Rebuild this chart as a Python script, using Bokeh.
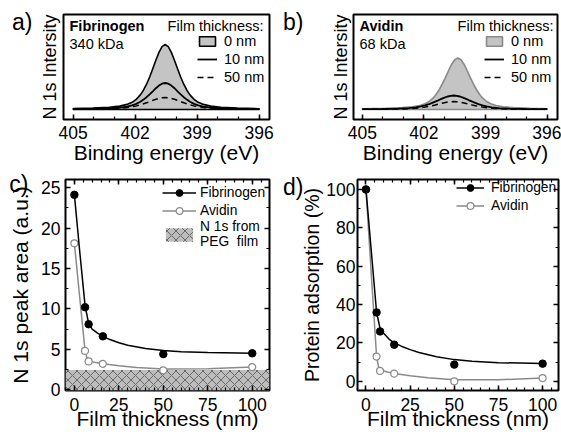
from bokeh.plotting import figure
from bokeh.layouts import column, row
from bokeh.models import (Range1d, SingleIntervalTicker, FixedTicker, LinearAxis,
                          Legend, LegendItem, Label, CustomJSTickFormatter)
from bokeh.embed import file_html
from bokeh.resources import INLINE

FONT = "Liberation Sans"

# ---------------- data: XPS N 1s spectra (panels a, b) ----------------
energy = [405.0, 404.05, 403.25, 402.75, 402.4, 402.15, 401.95, 401.75, 401.6, 401.45,
          401.3, 401.15, 401.0, 400.85, 400.7, 400.55, 400.4, 400.25, 400.1, 399.95,
          399.8, 399.65, 399.5, 399.35, 399.15, 398.95, 398.7, 398.35, 397.85, 397.05, 396.0]
fib_0nm = [0.09, 0.14, 0.23, 0.34, 0.51, 0.72, 1.01, 1.46, 1.93, 2.53, 3.25, 4.07, 4.92, 5.71,
           6.29, 6.5, 6.29, 5.71, 4.92, 4.07, 3.25, 2.53, 1.93, 1.46, 1.01, 0.72, 0.51, 0.34,
           0.23, 0.14, 0.08]
fib_10nm = [0.05, 0.07, 0.12, 0.19, 0.28, 0.41, 0.56, 0.78, 0.99, 1.23, 1.52, 1.82, 2.13, 2.39,
            2.58, 2.65, 2.58, 2.39, 2.13, 1.82, 1.52, 1.23, 0.99, 0.78, 0.56, 0.41, 0.28, 0.19,
            0.12, 0.07, 0.05]
fib_50nm = [0.03, 0.05, 0.08, 0.12, 0.19, 0.27, 0.36, 0.47, 0.57, 0.67, 0.79, 0.91, 1.02, 1.11,
            1.18, 1.2, 1.18, 1.11, 1.02, 0.91, 0.79, 0.67, 0.57, 0.47, 0.36, 0.27, 0.19, 0.12,
            0.08, 0.05, 0.03]
energy_av0 = [405.0, 403.85, 403.05, 402.55, 402.2, 401.95, 401.75, 401.55, 401.4, 401.25,
              401.1, 400.95, 400.8, 400.65, 400.5, 400.35, 400.2, 400.05, 399.9, 399.75,
              399.6, 399.45, 399.3, 399.15, 398.95, 398.75, 398.5, 398.15, 397.65, 396.85, 396.0]
av_0nm = [0.07, 0.11, 0.19, 0.27, 0.40, 0.57, 0.80, 1.16, 1.53, 2.00, 2.58, 3.22, 3.90, 4.53,
          4.98, 5.15, 4.98, 4.53, 3.90, 3.22, 2.58, 2.00, 1.53, 1.16, 0.80, 0.57, 0.40, 0.27,
          0.19, 0.11, 0.07]
av_10nm = [0.03, 0.05, 0.09, 0.14, 0.22, 0.32, 0.42, 0.54, 0.66, 0.79, 0.92, 1.06, 1.19, 1.30,
           1.37, 1.4, 1.37, 1.30, 1.19, 1.06, 0.92, 0.79, 0.66, 0.54, 0.42, 0.32, 0.22, 0.14,
           0.09, 0.05, 0.03]
av_50nm = [0.02, 0.03, 0.05, 0.08, 0.13, 0.18, 0.24, 0.31, 0.38, 0.45, 0.53, 0.61, 0.68, 0.74,
           0.78, 0.8, 0.78, 0.74, 0.68, 0.61, 0.53, 0.45, 0.38, 0.31, 0.24, 0.18, 0.13, 0.08,
           0.05, 0.03, 0.02]

# ---------------- data: peak area / adsorption (panels c, d) ----------------
thickness = [0, 6, 8, 16, 50, 100]
fib_area = [24.1, 10.2, 8.1, 6.6, 4.4, 4.5]
av_area = [18.1, 4.8, 3.5, 3.2, 2.4, 2.8]
peg_level = 2.45
fib_fit_x = [0, 3, 6, 8, 10, 13, 16, 20, 25, 30, 40, 50, 60, 75, 100]
fib_area_fit = [24.1, 17.1, 10.4, 8.2, 7.5, 7.0, 6.6, 6.2, 5.8, 5.5, 5.1, 4.85, 4.7, 4.6, 4.5]
av_fit_x = [0, 3, 6, 7, 8, 12, 16, 25, 35, 50, 75, 100]
av_area_fit = [18.1, 11.4, 4.8, 4.0, 3.6, 3.35, 3.2, 2.95, 2.75, 2.55, 2.6, 2.8]

fib_ads = [100, 35.9, 26.0, 19.1, 8.7, 9.2]
av_ads = [100, 12.9, 5.4, 4.0, 0.0, 1.7]
fib_ads_fit = [100, 68, 36, 27.5, 25, 22, 20, 18.3, 16.5, 15, 12.8, 11.3, 10.4, 9.7, 9.3]
av_ads_fit = [100, 56, 12.9, 8.0, 6.0, 4.8, 4.1, 2.9, 1.8, 0.8, 0.8, 1.7]

GRAY_FILL = "#c4c4c4"
GRAY_LINE = "#8a8a8a"
HATCH_FILL = "#bdbdbd"
HATCH_LINE = "#6a6a6a"


def base_fig(w, h, xr, yr, left, right, top, bottom):
    p = figure(width=w, height=h, x_range=xr, y_range=yr, output_backend="svg",
               toolbar_location=None, min_border_left=left, min_border_right=right,
               min_border_top=top, min_border_bottom=bottom)
    p.outline_line_color = "black"
    p.outline_line_width = 2
    p.xgrid.visible = False
    p.ygrid.visible = False
    return p


def style_axis(ax, tick_size, title_size, tick_standoff, title_standoff):
    ax.axis_line_color = None
    ax.major_tick_in = 5
    ax.major_tick_out = 0
    ax.minor_tick_in = 3
    ax.minor_tick_out = 0
    ax.major_tick_line_color = "black"
    ax.major_tick_line_width = 1.5
    ax.minor_tick_line_color = "black"
    ax.minor_tick_line_width = 1.2
    ax.major_label_text_font = FONT
    ax.major_label_text_font_size = tick_size
    ax.major_label_text_color = "black"
    ax.major_label_standoff = tick_standoff
    ax.axis_label_text_font = FONT
    ax.axis_label_text_font_size = title_size
    ax.axis_label_text_font_style = "normal"
    ax.axis_label_text_color = "black"
    ax.axis_label_standoff = title_standoff


def mirror_axes(p, xtick, ytick):
    # tick marks only on the top and right frame edges (no labels)
    for ticker, side in ((xtick, "above"), (ytick, "right")):
        ax = LinearAxis(ticker=ticker, formatter=CustomJSTickFormatter(code="return ''"))
        style_axis(ax, "1px", "1px", 0, 0)
        ax.major_label_text_color = None
        ax.major_label_text_alpha = 0
        p.add_layout(ax, side)


def letter_axis(p, letter, ypos, standoff):
    # panel letter drawn as the single label of an extra, tick-less left axis
    ax = LinearAxis(ticker=FixedTicker(ticks=[ypos], minor_ticks=[]),
                    formatter=CustomJSTickFormatter(code="return '%s'" % letter))
    ax.axis_line_color = None
    ax.major_tick_in = 0
    ax.major_tick_out = 0
    ax.minor_tick_in = 0
    ax.minor_tick_out = 0
    ax.major_label_text_font = FONT
    ax.major_label_text_font_size = "23px"
    ax.major_label_text_color = "black"
    ax.major_label_standoff = standoff
    p.add_layout(ax, "left")


def add_text(p, text, x, y, size, align="left", bold=False):
    p.add_layout(Label(x=x, y=y, x_units="screen", y_units="screen", text=text,
                       text_font=FONT, text_font_size=size, text_align=align,
                       text_baseline="top", text_color="black",
                       text_font_style="bold" if bold else "normal"))


def spectrum_panel(w, left, right, xr, name, mass, e0, i0, i10, i50, outline, panel,
                   ytitle_standoff, letter_standoff, legx):
    p = base_fig(w, 168, xr, Range1d(-1.0, 9.5), left, right, 14, 49)
    patch_x = e0 + [e0[-1], e0[0]]
    patch_y = i0 + [0, 0]
    r0 = p.patch(patch_x, patch_y, fill_color=GRAY_FILL, line_color=outline, line_width=1.6)
    r10 = p.line(energy, i10, line_color="black", line_width=1.8)
    r50 = p.line(energy, i50, line_color="black", line_width=1.5, line_dash="6 4")
    p.xaxis.ticker = SingleIntervalTicker(interval=3, num_minor_ticks=3)
    p.yaxis.ticker = FixedTicker(ticks=[], minor_ticks=[])
    p.xaxis.axis_label = "Binding energy (eV)"
    p.yaxis.axis_label = "N 1s Intersity"
    style_axis(p.xaxis[0], "17.5px", "21px", 6, -1)
    style_axis(p.yaxis[0], "17.5px", "18px", 0, ytitle_standoff)
    letter_axis(p, panel, 8.75, letter_standoff)
    leg = Legend(items=[LegendItem(label="0 nm", renderers=[r0]),
                        LegendItem(label="10 nm", renderers=[r10]),
                        LegendItem(label="50 nm", renderers=[r50])],
                 location=(legx, 33), glyph_width=20, glyph_height=12, label_standoff=7,
                 label_height=18, spacing=0, padding=0, margin=0,
                 border_line_color=None, background_fill_alpha=0,
                 label_text_font=FONT, label_text_font_size="14.5px", label_text_color="black")
    p.add_layout(leg)
    add_text(p, name, 6, 102, "14.5px", bold=True)
    add_text(p, mass, 6, 84, "14.5px")
    add_text(p, "Film thickness:", 200, 102, "14.5px", align="right")
    return p


pa = spectrum_panel(280, 63, 11, Range1d(405.47, 395.5), "Fibrinogen", "340 kDa",
                    energy, fib_0nm, fib_10nm, fib_50nm, "black", "a)", 4, 4, 134)
pb = spectrum_panel(281, 71, 4, Range1d(405.43, 395.5), "Avidin", "68 kDa",
                    energy_av0, av_0nm, av_10nm, av_50nm, GRAY_LINE, "b)", 3, 24, 131)

# ---------------- panel c ----------------
xr_c = Range1d(-5, 109.7)
yr_c = Range1d(-0.1, 26)
pc = base_fig(280, 266, xr_c, yr_c, 65, 11, 11, 44)
peg_box = pc.quad(left=[xr_c.start], right=[xr_c.end], bottom=[yr_c.start], top=[peg_level],
                  fill_color=HATCH_FILL, hatch_pattern="diagonal_cross", hatch_color=HATCH_LINE,
                  hatch_scale=9, hatch_weight=1, line_color=None)
av_line_c = pc.line(av_fit_x, av_area_fit, line_color=GRAY_LINE, line_width=1.5)
av_pts_c = pc.scatter(thickness, av_area, size=7, fill_color="white", line_color=GRAY_LINE,
                      line_width=1.2)
fib_line_c = pc.line(fib_fit_x, fib_area_fit, line_color="black", line_width=1.5)
fib_pts_c = pc.scatter(thickness, fib_area, size=7.5, fill_color="black", line_color="black")
pc.xaxis.ticker = SingleIntervalTicker(interval=25, num_minor_ticks=5)
pc.yaxis.ticker = SingleIntervalTicker(interval=5, num_minor_ticks=2)
pc.xaxis.axis_label = "Film thickness (nm)"
pc.yaxis.axis_label = "N 1s peak area (a.u.)"
style_axis(pc.xaxis[0], "17.5px", "21px", 7, -7)
style_axis(pc.yaxis[0], "17.5px", "21px", 5, 6)
mirror_axes(pc, SingleIntervalTicker(interval=25, num_minor_ticks=5),
            SingleIntervalTicker(interval=5, num_minor_ticks=2))
letter_axis(pc, "c)", 26.0, -22)
pc.add_layout(Legend(items=[LegendItem(label="Fibrinogen", renderers=[fib_line_c, fib_pts_c]),
                            LegendItem(label="Avidin", renderers=[av_line_c, av_pts_c]),
                            LegendItem(label="N 1s from\nPEG  film", renderers=[peg_box])],
                     location=(97, 141), glyph_width=34, glyph_height=17, label_standoff=4,
                     label_height=18, spacing=0, padding=0, margin=0,
                     border_line_color=None, background_fill_alpha=0,
                     label_text_font=FONT, label_text_font_size="13.8px",
                     label_text_color="black"))

# ---------------- panel d ----------------
pd_ = base_fig(281, 266, Range1d(-4.8, 109), Range1d(-4.8, 105.2), 76, 3, 10, 44)
av_line_d = pd_.line(av_fit_x, av_ads_fit, line_color=GRAY_LINE, line_width=1.5)
av_pts_d = pd_.scatter(thickness, av_ads, size=7, fill_color="white", line_color=GRAY_LINE,
                       line_width=1.2)
fib_line_d = pd_.line(fib_fit_x, fib_ads_fit, line_color="black", line_width=1.5)
fib_pts_d = pd_.scatter(thickness, fib_ads, size=7.5, fill_color="black", line_color="black")
pd_.xaxis.ticker = SingleIntervalTicker(interval=25, num_minor_ticks=5)
pd_.yaxis.ticker = SingleIntervalTicker(interval=20, num_minor_ticks=2)
pd_.xaxis.axis_label = "Film thickness (nm)"
pd_.yaxis.axis_label = "Protein adsorption (%)"
style_axis(pd_.xaxis[0], "17.5px", "21px", 7, -7)
style_axis(pd_.yaxis[0], "17.5px", "19.5px", 2, 0)
mirror_axes(pd_, SingleIntervalTicker(interval=25, num_minor_ticks=5),
            SingleIntervalTicker(interval=20, num_minor_ticks=2))
letter_axis(pd_, "d)", 101.3, -5)
pd_.add_layout(Legend(items=[LegendItem(label="Fibrinogen", renderers=[fib_line_d, fib_pts_d]),
                             LegendItem(label="Avidin", renderers=[av_line_d, av_pts_d])],
                      location=(99, 176), glyph_width=28, glyph_height=17, label_standoff=7,
                      label_height=18, spacing=0, padding=0, margin=0,
                      border_line_color=None, background_fill_alpha=0,
                      label_text_font=FONT, label_text_font_size="13.8px",
                      label_text_color="black"))

layout = column(row(pa, pb), row(pc, pd_))
open("out.html", "w").write(file_html(layout, INLINE))
